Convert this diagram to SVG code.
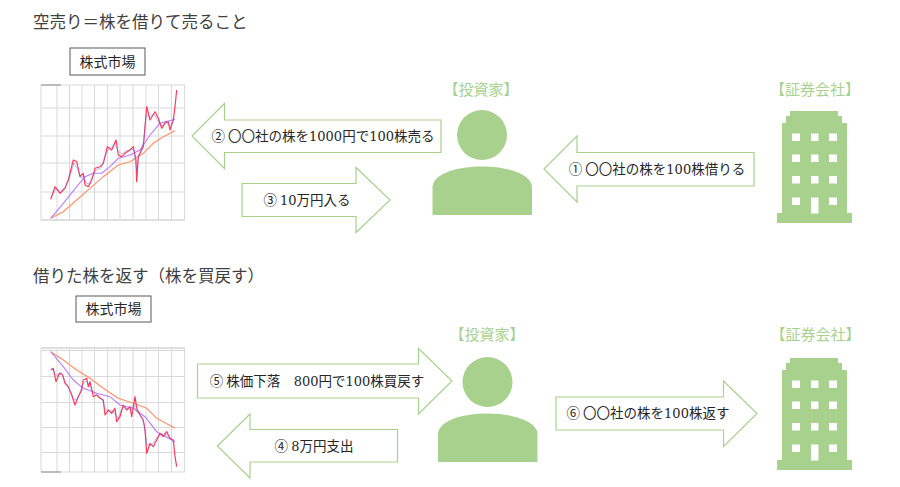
<svg xmlns="http://www.w3.org/2000/svg" xmlns:xlink="http://www.w3.org/1999/xlink" width="900" height="487" viewBox="0 0 900 487">
<style>
.title{font-family:"Noto Sans CJK JP","Noto Sans",sans-serif;font-size:16.5px;fill:#404040}
.mkt{font-family:"Noto Sans CJK JP","Noto Sans",sans-serif;font-size:14px;fill:#262626;text-anchor:middle}
.boxr{fill:#fff;stroke:#595959;stroke-width:1}
.role{font-family:"Noto Sans CJK JP","Noto Sans",sans-serif;font-size:15px;fill:#A9D18E;text-anchor:middle}
.arrow{fill:#fff;stroke:#A9D18E;stroke-width:1.2;stroke-linejoin:miter}
.lbl{font-family:"Noto Sans CJK JP","Noto Sans",sans-serif;font-size:13.5px;fill:#262626;text-anchor:middle}
.num{font-family:"DejaVu Serif","Liberation Serif",serif;font-size:13px}
.icon{fill:#A9D18E}
.win{fill:#fff}
.grid{stroke:#D9D9D9;stroke-width:1;fill:none}
.frame{stroke:#BFBFBF;stroke-width:1;fill:none}
.price{fill:none;stroke:#FF3B5C;stroke-width:1.2;stroke-linejoin:round}
.priceb{fill:none;stroke:#5A6AE0;stroke-width:0.7;stroke-linejoin:round;opacity:0.6}
.ma1{fill:none;stroke:#B97CFF;stroke-width:1.1}
.ma2{fill:none;stroke:#FF8F66;stroke-width:1.1}
</style>
<defs>
<g id="buildingShape">
<polygon class="icon" points="790,111 838,111 838,116 842,116 842,123 847,123 847,213 852,213 852,223 777,223 777,213 782,213 782,123 786,123 786,116 790,116"/>
<rect class="win" x="792" y="133.5" width="8" height="7.5"/>
<rect class="win" x="811" y="133.5" width="7.5" height="7.5"/>
<rect class="win" x="829" y="133.5" width="8" height="7.5"/>
<rect class="win" x="792" y="154.5" width="8" height="7.5"/>
<rect class="win" x="811" y="154.5" width="7.5" height="7.5"/>
<rect class="win" x="829" y="154.5" width="8" height="7.5"/>
<rect class="win" x="792" y="176" width="8" height="7.5"/>
<rect class="win" x="811" y="176" width="7.5" height="7.5"/>
<rect class="win" x="829" y="176" width="8" height="7.5"/>
<rect class="win" x="792" y="197.5" width="8" height="7.5"/>
<rect class="win" x="811" y="197.5" width="7.5" height="16"/>
<rect class="win" x="829" y="197.5" width="8" height="7.5"/>
</g>
<g id="personShape">
<circle class="icon" cx="482" cy="135" r="25"/>
<path class="icon" d="M432.5,215 V187 C432.5,176 452,166.5 482,166.5 C512,166.5 532,176 532,187 V215 Z"/>
</g>
</defs>

<g id="titles">
<text class="title" x="33" y="28">空売り＝株を借りて売ること</text>
<text class="title" x="33" y="282">借りた株を返す（株を買戻す）</text>
</g>

<g id="market1">
<rect class="boxr" x="70" y="48" width="75" height="27"/>
<text class="mkt" x="107.5" y="67">株式市場</text>
<g id="chart1">
<line class="grid" x1="41" y1="85" x2="185" y2="85"/>
<line class="grid" x1="41" y1="108" x2="185" y2="108"/>
<line class="grid" x1="41" y1="136" x2="185" y2="136"/>
<line class="grid" x1="41" y1="163" x2="185" y2="163"/>
<line class="grid" x1="41" y1="192" x2="185" y2="192"/>
<line class="frame" x1="41" y1="220" x2="185" y2="220"/>
<line class="grid" x1="41" y1="85" x2="41" y2="220"/>
<line class="grid" x1="57" y1="85" x2="57" y2="220"/>
<line class="grid" x1="69.5" y1="85" x2="69.5" y2="220"/>
<line class="grid" x1="82" y1="85" x2="82" y2="220"/>
<line class="grid" x1="94.5" y1="85" x2="94.5" y2="220"/>
<line class="grid" x1="107.5" y1="85" x2="107.5" y2="220"/>
<line class="grid" x1="120" y1="85" x2="120" y2="220"/>
<line class="grid" x1="133" y1="85" x2="133" y2="220"/>
<line class="grid" x1="146" y1="85" x2="146" y2="220"/>
<line class="grid" x1="158.5" y1="85" x2="158.5" y2="220"/>
<line class="grid" x1="171.5" y1="85" x2="171.5" y2="220"/>
<line class="grid" x1="184.5" y1="85" x2="184.5" y2="220"/>
<line x1="41" y1="85" x2="61" y2="85" stroke="#8C8C8C" stroke-width="1"/>
<polyline class="ma2" points="50.7,218.3 63.3,211.7 76.7,200 90,188.3 103.3,176.7 118.3,165 130,161.7 143.3,153.3 153.3,143.3 163.3,136.7 175,130.7"/>
<polyline class="ma1" points="50.7,218.3 63.3,203.3 76.7,186.7 85,176.7 93.3,173.3 101.7,173.3 110,166.7 118.3,158.3 130,155 140,150 150,135 160,123.3 175,119.3"/>
<polyline class="price" points="50.7,199.3 55,186.7 60,193.3 65,188.3 68.3,180 73.3,160 76.7,161.7 80,176.7 83.3,173.3 85,185 88.3,186.7 91.7,180 95,168.3 100,166.7 103.3,163.3 107.3,146.7 111.7,150 116,140 118.3,155 121.7,156.7 125,153.3 130,150 133.3,146.7 136,160 136.7,181.7 138.3,156.7 143.3,146.7 145,126.7 146.7,106.7 150,120 155,111.7 158.3,118.3 161.7,128.3 165,123.3 168.3,121.7 170,130 173.3,120 175,106.7 176.7,90"/>
<polyline class="priceb" points="52,196 56,189 61,191 66,186 70,176 74,163 78,170 81,178 84,176 86,183 89,184 92,178 96,170 101,168 104,160 108,150 112,147 115,145 119,152 122,154 126,151 131,149 134,150 136.5,170 139,155 144,140 146,115 149,117 154,114 158,121 162,126 166,121 169,126 172,124 174,118"/>
</g>
</g>

<g id="market2">
<rect class="boxr" x="76" y="296" width="75" height="26"/>
<text class="mkt" x="113.5" y="314">株式市場</text>
<g id="chart2">
<line class="frame" x1="41" y1="348" x2="185" y2="348"/>
<line class="grid" x1="41" y1="350.5" x2="185" y2="350.5"/>
<line class="grid" x1="41" y1="376.5" x2="185" y2="376.5"/>
<line class="grid" x1="41" y1="402.5" x2="185" y2="402.5"/>
<line class="grid" x1="41" y1="427.5" x2="185" y2="427.5"/>
<line class="grid" x1="41" y1="452.5" x2="185" y2="452.5"/>
<line class="grid" x1="41" y1="472" x2="185" y2="472"/>
<line class="grid" x1="41" y1="348" x2="41" y2="472"/>
<line class="grid" x1="57" y1="348" x2="57" y2="472"/>
<line class="grid" x1="69.5" y1="348" x2="69.5" y2="472"/>
<line class="grid" x1="82" y1="348" x2="82" y2="472"/>
<line class="grid" x1="94.5" y1="348" x2="94.5" y2="472"/>
<line class="grid" x1="107.5" y1="348" x2="107.5" y2="472"/>
<line class="grid" x1="120" y1="348" x2="120" y2="472"/>
<line class="grid" x1="133" y1="348" x2="133" y2="472"/>
<line class="grid" x1="146" y1="348" x2="146" y2="472"/>
<line class="grid" x1="158.5" y1="348" x2="158.5" y2="472"/>
<line class="grid" x1="171.5" y1="348" x2="171.5" y2="472"/>
<line class="grid" x1="184.5" y1="348" x2="184.5" y2="472"/>
<line x1="41" y1="472" x2="61" y2="472" stroke="#8C8C8C" stroke-width="1"/>
<polyline class="ma2" points="50.7,351.7 63.3,360 76.7,370 90,378.3 103.3,388.3 118.3,398.3 133.3,403.3 146.7,408.3 156.7,418.3 175,428.3"/>
<polyline class="ma1" points="50.7,351.7 63.3,366.7 73.3,380 83.3,388.3 96.7,393.3 110,396.7 120,405 133.3,408.3 145,416.7 156.7,431.7 175,441.7"/>
<polyline class="price" points="50.7,370 53.3,368.3 56,381.7 59.3,373.3 62.7,375 65,383.3 68.3,386.7 71.7,395 75,405 78.3,396.7 81.7,390 83.3,380 86.7,378.3 88.3,386.7 90,381.7 93.3,396.7 96.7,395 100,398.3 103.3,400 105,415 108.3,410 111.7,413.3 115,408.3 116.7,421.7 120,416.7 123.3,405 126.7,410 130,406.7 131.7,416.7 135,396.7 136.7,408.3 140,415 143.3,420 145,430 146.7,453.3 150,443.3 153.3,446.7 156.7,440 160,433.3 163.3,436.7 166.7,431.7 170,438.3 173.3,440 175,456.7 176.7,466.7"/>
<polyline class="priceb" points="52,368 55,374 58,376 61,372 64,379 67,385 70,390 74,400 77,399 80,392 83,384 86,381 89,384 92,390 95,394 99,396 102,399 105,408 108,412 112,410 115,414 118,418 121,411 124,407 128,409 131,410 134,405 137,412 141,416 144,424 147,445 151,446 154,442 157,437 161,436 164,433 168,436 171,438 174,443"/>
</g>
</g>

<g id="investor1">
<text class="role" x="481" y="95">【投資家】</text>
<use xlink:href="#personShape"/>
</g>
<g id="investor2">
<text class="role" x="487" y="340">【投資家】</text>
<use xlink:href="#personShape" transform="translate(5.5,247)"/>
</g>
<g id="broker1">
<text class="role" x="815" y="95">【証券会社】</text>
<use xlink:href="#buildingShape"/>
</g>
<g id="broker2">
<text class="role" x="815.5" y="340">【証券会社】</text>
<use xlink:href="#buildingShape" transform="translate(0,247)"/>
</g>

<g id="connectors">
<g id="arrow1">
<polygon class="arrow" points="544,169 577,136 577,152.5 754,152.5 754,186 577,186 577,202"/>
<text class="lbl" x="657" y="174">① 〇〇社の株を<tspan class="num">100</tspan>株借りる</text>
</g>
<g id="arrow2">
<polygon class="arrow" points="192,136 224.5,103.5 224.5,120 441,120 441,152.5 224.5,152.5 224.5,168.5"/>
<text class="lbl" x="323" y="141">② 〇〇社の株を<tspan class="num">1000</tspan>円で<tspan class="num">100</tspan>株売る</text>
</g>
<g id="arrow3">
<polygon class="arrow" points="242,183.5 356,183.5 356,167.5 390,200 356,232.5 356,216.5 242,216.5"/>
<text class="lbl" x="307" y="204.5">③ <tspan class="num">10</tspan>万円入る</text>
</g>
<g id="arrow5">
<polygon class="arrow" points="197.5,364 418.5,364 418.5,348.5 452,381 418.5,414 418.5,398 197.5,398"/>
<text class="lbl" x="317" y="385.5">⑤ 株価下落　<tspan class="num">800</tspan>円で<tspan class="num">100</tspan>株買戻す</text>
</g>
<g id="arrow4">
<polygon class="arrow" points="217.5,446 250,414 250,429.5 397.5,429.5 397.5,462 250,462 250,478"/>
<text class="lbl" x="314" y="451">④ <tspan class="num">8</tspan>万円支出</text>
</g>
<g id="arrow6">
<polygon class="arrow" points="556,397 723.5,397 723.5,381 757,413.5 723.5,446.5 723.5,430 556,430"/>
<text class="lbl" x="648" y="418">⑥ 〇〇社の株を<tspan class="num">100</tspan>株返す</text>
</g>
</g>
</svg>
